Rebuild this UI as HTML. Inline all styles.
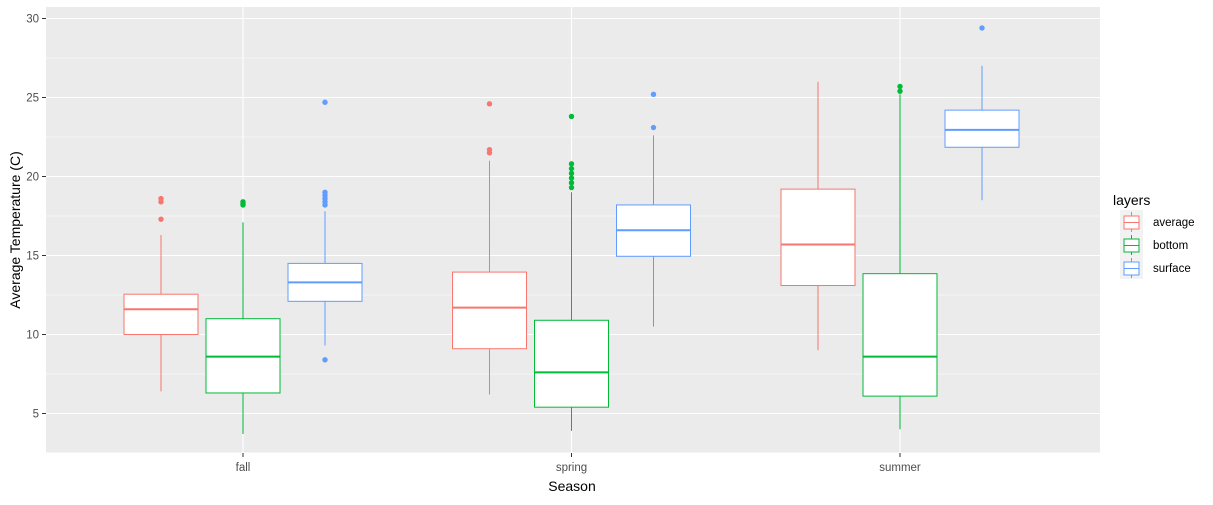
<!DOCTYPE html>
<html><head><meta charset="utf-8"><style>
body{margin:0;background:#fff;font-family:"Liberation Sans",Arial,sans-serif}
svg text{font-family:"Liberation Sans",Arial,sans-serif}
</style></head><body>
<svg id="c" width="1213" height="500">
<rect x="46" y="7" width="1054" height="446" fill="#ebebeb"/>
<g id="grid"></g><g id="axes"></g><g id="boxes"></g>
<text x="572" y="491" font-size="14" text-anchor="middle" fill="#000">Season</text>
<text transform="translate(20,230) rotate(-90)" font-size="14" text-anchor="middle" fill="#000">Average Temperature (C)</text>
<g id="legend">
<text x="1113" y="205" font-size="14" fill="#000">layers</text>
</g>
</svg>
<script>
const categories=["fall","spring","summer"];
const layers=["average","bottom","surface"];
const colors=["#F8766D","#00BA38","#619CFF"];
const yTicks=[5,10,15,20,25,30];
// [low whisker, q1, median, q3, high whisker]
const averageStats=[[6.4,10,11.6,12.55,16.3],[6.2,9.1,11.7,13.95,21.0],[9.0,13.1,15.7,19.2,26.0]];
const bottomStats=[[3.7,6.3,8.6,11.0,17.1],[3.9,5.4,7.6,10.9,19.0],[4.0,6.1,8.6,13.85,25.2]];
const surfaceStats=[[9.3,12.1,13.3,14.5,17.8],[10.5,14.95,16.6,18.2,22.6],[18.5,21.85,22.95,24.2,27.0]];
const averageOutliers=[[17.3,18.4,18.6],[21.5,21.7,24.6],[]];
const bottomOutliers=[[18.2,18.3,18.4],[19.3,19.6,19.9,20.2,20.5,20.8,23.8],[25.4,25.7]];
const surfaceOutliers=[[8.4,18.2,18.4,18.6,18.8,19.0,24.7],[23.1,25.2],[29.4]];
const statsAll=[averageStats,bottomStats,surfaceStats];
const outAll=[averageOutliers,bottomOutliers,surfaceOutliers];
const NS="http://www.w3.org/2000/svg";
const y=v=>413.5-(v-5)*15.8;
const x=i=>243+i*328.5;
const bw=74,dodge=82;
function mk(tag,at,par){const e=document.createElementNS(NS,tag);for(const k in at)e.setAttribute(k,at[k]);document.getElementById(par).appendChild(e);return e;}
// grid
for(let i=0;i<yTicks.length;i++){
 const v=yTicks[i];
 const g=mk("line",{x1:46,x2:1100,y1:y(v),y2:y(v),stroke:"#fff","stroke-width":1.1},"grid");
 
 
 if(i<yTicks.length-1){const m=mk("line",{x1:46,x2:1100,y1:y(v+2.5),y2:y(v+2.5),stroke:"#fff","stroke-width":0.55},"grid");
 
 }
 const mm=mk("line",{x1:46,x2:1100,y1:y(2.5),y2:y(2.5),stroke:"#fff","stroke-width":0.55},"grid");
 const t=mk("text",{x:39,y:y(v)+4,"font-size":11.5,"text-anchor":"end",fill:"#4d4d4d"},"axes");t.textContent=v;
 
 
 mk("line",{x1:42,x2:46,y1:y(v),y2:y(v),stroke:"#333"},"axes");
}
categories.forEach((c,i)=>{
 const g=mk("line",{x1:x(i),x2:x(i),y1:7,y2:453,stroke:"#fff","stroke-width":1.1},"grid");
 
 
 mk("line",{x1:x(i),x2:x(i),y1:453,y2:457,stroke:"#333"},"axes");
 const t=mk("text",{x:x(i),y:471,"font-size":11.5,"text-anchor":"middle",fill:"#4d4d4d"},"axes");t.textContent=c;
 
 
});
// boxes
for(let l=0;l<3;l++)for(let i=0;i<3;i++){
 const s=statsAll[l][i],cx=x(i)+(l-1)*dodge,col=colors[l];
 const w=mk("line",{x1:cx,x2:cx,y1:y(s[0]),y2:y(s[4]),stroke:col,"stroke-width":1},"boxes");
 
 
 const r=mk("rect",{x:cx-bw/2,y:y(s[3]),width:bw,height:y(s[1])-y(s[3]),fill:"#fff",stroke:col,"stroke-width":1},"boxes");
 
 
 const m=mk("line",{x1:cx-bw/2,x2:cx+bw/2,y1:y(s[2]),y2:y(s[2]),stroke:col,"stroke-width":2},"boxes");
 
 
 outAll[l][i].forEach(v=>{const p=mk("circle",{cx:cx,cy:y(v),r:2.7,fill:col},"boxes");
 
 });
}
// legend
layers.forEach((n,l)=>{
 const ky=213+l*23,col=colors[l];
 mk("rect",{x:1120,y:ky-3,width:23,height:23,fill:"#f2f2f2"},"legend");
 mk("line",{x1:1131.5,x2:1131.5,y1:ky-1,y2:ky+19,stroke:col},"legend");
 const r=mk("rect",{x:1124,y:ky+3,width:15,height:13,fill:"#fff",stroke:col},"legend");
 
 
 mk("line",{x1:1124,x2:1139,y1:ky+9.5,y2:ky+9.5,stroke:col},"legend");
 const t=mk("text",{x:1153,y:ky+13,"font-size":11.5,fill:"#000"},"legend");t.textContent=n;
 
 
});
</script>
</body></html>
